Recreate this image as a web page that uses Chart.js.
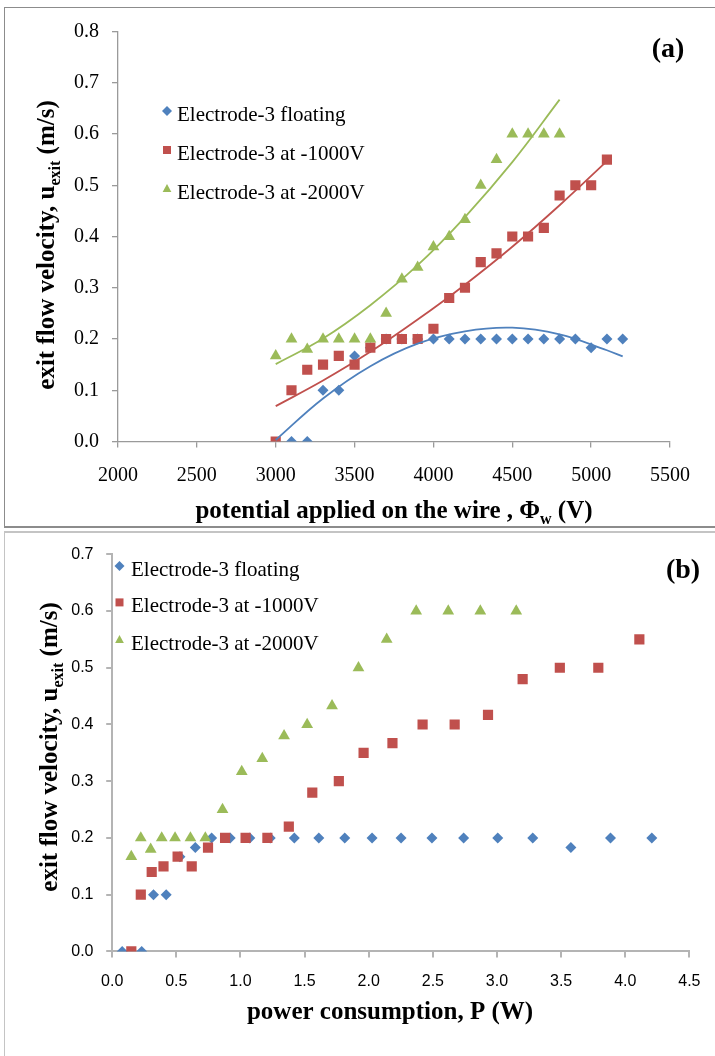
<!DOCTYPE html>
<html><head><meta charset="utf-8">
<script src="https://cdn.jsdelivr.net/npm/chart.js@4/dist/chart.umd.min.js"></script>
<style>
html,body{margin:0;padding:0;background:#fff;width:715px;height:1056px;overflow:hidden;}
#frameA{position:absolute;left:4px;top:7px;width:720px;height:518px;border-left:1px solid #8c8c8c;border-top:1px solid #8c8c8c;border-bottom:2px solid #8c8c8c;}
#frameB{position:absolute;left:4px;top:531px;width:720px;height:600px;border-left:1px solid #c4c4c4;border-top:2px solid #c4c4c4;}
#cA{position:absolute;left:0;top:0;}
#cB{position:absolute;left:0;top:532px;}
</style></head><body>
<div id="frameA"></div><div id="frameB"></div>
<canvas id="cA" width="715" height="527"></canvas>
<canvas id="cB" width="715" height="524"></canvas>
<script>
// ---------- data ----------
const seriesNames = ['Electrode-3 floating', 'Electrode-3 at -1000V', 'Electrode-3 at -2000V'];

// (a) potential applied on the wire (V)
const potFloating = [3100,3200,3300,3400,3500,3600,3700,3800,3900,4000,4100,4200,4300,4400,4500,4600,4700,4800,4900,5000,5100,5200];
const potM1000   = [3000,3100,3200,3300,3400,3500,3600,3700,3800,3900,4000,4100,4200,4300,4400,4500,4600,4700,4800,4900,5000,5100];
const potM2000   = [3000,3100,3200,3300,3400,3500,3600,3700,3800,3900,4000,4100,4200,4300,4400,4500,4600,4700,4800];

// exit flow velocity (m/s)
const velFloating = [0,0,0.1,0.1,0.167,0.183,0.2,0.2,0.2,0.2,0.2,0.2,0.2,0.2,0.2,0.2,0.2,0.2,0.2,0.183,0.2,0.2];
const velM1000   = [0,0.1,0.14,0.15,0.167,0.15,0.183,0.2,0.2,0.2,0.22,0.28,0.3,0.35,0.367,0.4,0.4,0.417,0.48,0.5,0.5,0.55];
const velM2000   = [0.167,0.2,0.18,0.2,0.2,0.2,0.2,0.25,0.317,0.34,0.38,0.4,0.433,0.5,0.55,0.6,0.6,0.6,0.6];

// (a) trendlines
const trendFloatingV = [3000,3300,3600,3900,4200,4500,4800,5100,5200];
const trendFloatingU = [0.003,0.084,0.147,0.191,0.215,0.222,0.209,0.178,0.166];
const trendM1000V = [3000,3300,3600,3900,4200,4500,4800,5100];
const trendM1000U = [0.069,0.119,0.175,0.238,0.306,0.380,0.461,0.547];
const trendM2000V = [3000,3300,3600,3900,4200,4500,4800];
const trendM2000U = [0.151,0.201,0.266,0.344,0.438,0.545,0.667];

// (b) power consumption (W)
const powFloating = [0.078,0.23,0.322,0.421,0.528,0.648,0.775,0.92,1.073,1.232,1.42,1.611,1.813,2.026,2.252,2.493,2.74,3.006,3.279,3.576,3.885,4.207];
const powM1000   = [0.149,0.223,0.308,0.40,0.51,0.62,0.747,0.88,1.04,1.21,1.377,1.56,1.767,1.96,2.185,2.42,2.67,2.93,3.20,3.49,3.79,4.11];
const powM2000   = [0.149,0.223,0.30,0.386,0.49,0.61,0.726,0.86,1.01,1.17,1.34,1.52,1.714,1.92,2.14,2.37,2.62,2.87,3.15];

// axis ticks
const ticksA_x = [2000,2500,3000,3500,4000,4500,5000,5500];
const ticksA_y = [0,0.1,0.2,0.3,0.4,0.5,0.6,0.7,0.8];
const ticksB_x = [0,0.5,1,1.5,2,2.5,3,3.5,4,4.5];
const ticksB_y = [0,0.1,0.2,0.3,0.4,0.5,0.6,0.7];

const COLORS = ['#4F81BD', '#C0504D', '#9BBB59'];
const STYLES = ['rectRot', 'rect', 'triangle'];

function pts(xs, ys){ return xs.map((x,i)=>({x:x, y:ys[i]})); }

// ---------- drawing helpers ----------
function drawMarker(ctx, style, x, y, s, color){
  ctx.save(); ctx.fillStyle = color; ctx.beginPath();
  if (style === 'rectRot'){ ctx.moveTo(x, y-s); ctx.lineTo(x+s, y); ctx.lineTo(x, y+s); ctx.lineTo(x-s, y); }
  else if (style === 'rect'){ ctx.rect(x-s*0.8, y-s*0.8, s*1.6, s*1.6); }
  else { ctx.moveTo(x, y-s); ctx.lineTo(x+s*0.87, y+s*0.6); ctx.lineTo(x-s*0.87, y+s*0.6); }
  ctx.closePath(); ctx.fill(); ctx.restore();
}
function drawRich(ctx, parts, cx, cy, rot, size){
  const font = 'bold ' + size + 'px "Liberation Serif"';
  const sub = 'bold ' + Math.round(size*0.65) + 'px "Liberation Serif"';
  ctx.save(); ctx.translate(cx, cy); ctx.rotate(rot);
  const widths = parts.map(p => { ctx.font = p.sub ? sub : font; return ctx.measureText(p.t).width; });
  const total = widths.reduce((a,b)=>a+b, 0);
  let x = -total/2;
  ctx.textAlign = 'left'; ctx.textBaseline = 'alphabetic'; ctx.fillStyle = '#000';
  const base = size*0.32;
  parts.forEach((p,i) => { ctx.font = p.sub ? sub : font; ctx.fillText(p.t, x, base + (p.sub ? size*0.22 : 0)); x += widths[i]; });
  ctx.restore();
}

const annotPlugin = {
  id: 'annot',
  afterDraw(chart){
    const o = chart.options.plugins.annot; if (!o) return;
    const ctx = chart.ctx;
    drawRich(ctx, o.xTitle.parts, o.xTitle.x, o.xTitle.y, 0, o.titleSize);
    drawRich(ctx, o.yTitle.parts, o.yTitle.x, o.yTitle.y, -Math.PI/2, o.titleSize);
    ctx.save();
    ctx.font = 'bold 28px "Liberation Serif"'; ctx.fillStyle = '#000'; ctx.textAlign = 'center'; ctx.textBaseline = 'middle';
    ctx.fillText(o.panel.text, o.panel.x, o.panel.y);
    ctx.font = '21px "Liberation Serif"'; ctx.textAlign = 'left';
    seriesNames.forEach((name, i) => {
      const y = o.legend.ys[i];
      drawMarker(ctx, STYLES[i], o.legend.mx, y - 2, 5, COLORS[i]);
      ctx.fillStyle = '#000';
      ctx.fillText(name, o.legend.tx, y + 2);
    });
    ctx.restore();
  }
};

function scatterSet(i, xs, ys, radius, order){
  return { type:'scatter', label: seriesNames[i], data: pts(xs, ys), showLine:false,
    pointStyle: STYLES[i], pointRadius: radius[i], pointHoverRadius: radius[i],
    backgroundColor: COLORS[i], borderColor: COLORS[i], borderWidth: 0, order: order };
}
function trendSet(i, xs, ys, order){
  return { type:'scatter', label: seriesNames[i] + ' trend', data: pts(xs, ys), showLine:true,
    pointRadius:0, borderColor: COLORS[i], borderWidth: 1.8, tension: 0.4, fill:false, order: order };
}

function axisX(min, max, ticks, font, color, pad, height, fmt, axisColor, lw){
  return { type:'linear', min:min, max:max,
    afterBuildTicks: s => { s.ticks = ticks.map(v => ({value:v})); },
    afterFit: s => { s.height = height; },
    ticks: { font: font, color: color, padding: pad, maxRotation:0, autoSkip:false, callback: fmt },
    grid: { display:true, drawOnChartArea:false, drawTicks:true, tickLength:6, color:axisColor, lineWidth:lw },
    border: { display:true, color:axisColor, width:lw } };
}
function axisY(min, max, ticks, font, color, pad, width, axisColor, lw){
  return { type:'linear', min:min, max:max,
    afterBuildTicks: s => { s.ticks = ticks.map(v => ({value:v})); },
    afterFit: s => { s.width = width; },
    ticks: { font: font, color: color, padding: pad, autoSkip:false, callback: v => v.toFixed(1) },
    grid: { display:true, drawOnChartArea:false, drawTicks:true, tickLength:6, color:axisColor, lineWidth:lw },
    border: { display:true, color:axisColor, width:lw } };
}

const radii = [5.5, 7.2, 6.8];

// ---------- chart (a) ----------
new Chart(document.getElementById('cA'), {
  type: 'scatter',
  data: { datasets: [
    scatterSet(0, potFloating, velFloating, radii, 6),
    scatterSet(1, potM1000, velM1000, radii, 5),
    scatterSet(2, potM2000, velM2000, radii, 4),
    trendSet(0, trendFloatingV, trendFloatingU, 3),
    trendSet(1, trendM1000V, trendM1000U, 2),
    trendSet(2, trendM2000V, trendM2000U, 1)
  ]},
  options: {
    responsive:false, animation:false, devicePixelRatio:1,
    layout: { padding: { left:0, right:45, top:31.5, bottom:0 } },
    scales: {
      x: axisX(2000, 5500, ticksA_x, {family:'"Liberation Serif"', size:20}, '#000', 16, 85.5, v => String(v), '#9a9a9a', 1.3),
      y: axisY(0, 0.8, ticksA_y, {family:'"Liberation Serif"', size:20}, '#000', 13, 118, '#9a9a9a', 1.3)
    },
    plugins: {
      legend: { display:false }, tooltip: { enabled:false },
      annot: {
        titleSize: 25,
        xTitle: { parts: [{t:'potential applied on the wire , Φ'}, {t:'w', sub:true}, {t:' (V)'}], x: 394, y: 510 },
        yTitle: { parts: [{t:'exit flow velocity, u'}, {t:'exit', sub:true}, {t:' (m/s)'}], x: 46, y: 245 },
        panel: { text:'(a)', x: 668, y: 50 },
        legend: { mx: 167, tx: 177, ys: [113, 152, 191] }
      }
    }
  },
  plugins: [annotPlugin]
});

// ---------- chart (b) ----------
new Chart(document.getElementById('cB'), {
  type: 'scatter',
  data: { datasets: [
    scatterSet(0, powFloating, velFloating, radii, 3),
    scatterSet(1, powM1000, velM1000, radii, 2),
    scatterSet(2, powM2000, velM2000, radii, 1)
  ]},
  options: {
    responsive:false, animation:false, devicePixelRatio:1,
    layout: { padding: { left:0, right:23.3, top:10.9, bottom:0 } },
    scales: {
      x: axisX(0, 4.5, ticksB_x, {family:'"Liberation Sans"', size:16}, '#000', 14.5, 104.6, v => v.toFixed(1), '#b4b4b4', 2),
      y: axisY(0, 0.7, ticksB_y, {family:'"Liberation Sans"', size:16}, '#000', 12.7, 112.2, '#b4b4b4', 2)
    },
    plugins: {
      legend: { display:false }, tooltip: { enabled:false },
      annot: {
        titleSize: 25,
        xTitle: { parts: [{t:'power consumption, P (W)'}], x: 390, y: 478.6 },
        yTitle: { parts: [{t:'exit flow velocity, u'}, {t:'exit', sub:true}, {t:' (m/s)'}], x: 49, y: 215 },
        panel: { text:'(b)', x: 683, y: 39 },
        legend: { mx: 119.5, tx: 131, ys: [36, 72.4, 110] }
      }
    }
  },
  plugins: [annotPlugin]
});
</script>
</body></html>
